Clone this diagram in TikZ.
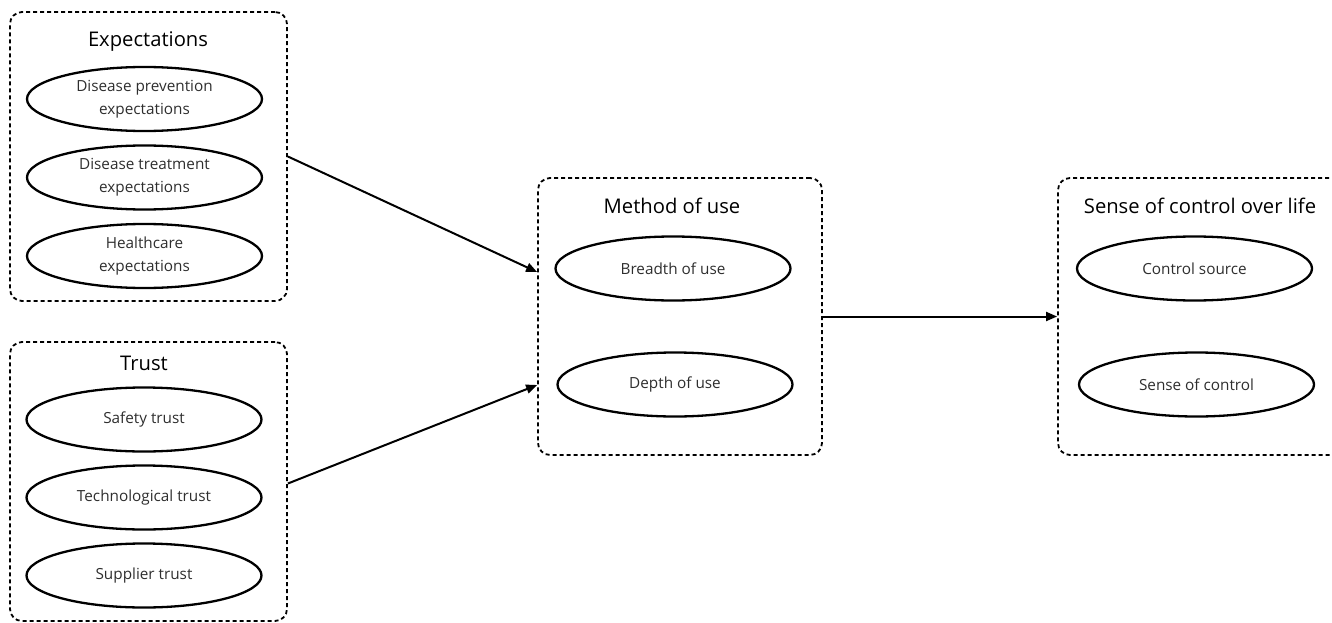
\documentclass[tikz,border=0pt]{standalone}
\usepackage{fontspec}
\setmainfont{Open Sans}
\usetikzlibrary{shapes.geometric,arrows.meta}
\definecolor{txtgray}{HTML}{2E2E2E}
\tikzset{
  groupbox/.style={draw=black, line width=1.8pt, dash pattern=on 4pt off 3pt, rounded corners=12pt, rectangle, inner sep=0pt},
  oval/.style={draw=black, line width=2.3pt, ellipse, minimum width=235pt, minimum height=64pt, inner sep=0pt, align=center, font=\fontsize{15.3}{23}\selectfont, text=txtgray},
  grouptitle/.style={font=\fontsize{20.2}{24}\selectfont, text=black, inner sep=0pt},
  link/.style={draw=black, line width=2pt, -{Triangle[length=11pt,width=9pt]}}
}
\begin{document}
\begin{tikzpicture}[x=1pt,y=-1pt]
\useasboundingbox (0,0) rectangle (1332,623);
\clip (0,0) rectangle (1332,623);
% Expectations
\node[groupbox, minimum width=277pt, minimum height=289pt] (exp) at (148.5,156.5) {};
\node[grouptitle] (expt) at (148,42) {Expectations};
\node[oval] (e1) at (144.5,99) {Disease prevention\\expectations};
\node[oval] (e2) at (144.5,177.5) {Disease treatment\\expectations};
\node[oval] (e3) at (144.5,256) {Healthcare\\expectations};
% Trust
\node[groupbox, minimum width=277pt, minimum height=279pt] (tru) at (148.5,481.5) {};
\node[grouptitle] (trut) at (144,363) {Trust};
\node[oval] (t1) at (144,419.5) {Safety trust};
\node[oval] (t2) at (144,497.5) {Technological trust};
\node[oval] (t3) at (144,575.5) {Supplier trust};
% Method of use
\node[groupbox, minimum width=284pt, minimum height=277pt] (met) at (680,316.5) {};
\node[grouptitle] (mett) at (672,206) {Method of use};
\node[oval] (m1) at (673,268.5) {Breadth of use};
\node[oval] (m2) at (675,384.5) {Depth of use};
% Sense of control over life
\node[groupbox, minimum width=290pt, minimum height=277pt] (sen) at (1203,316.5) {};
\node[grouptitle] (sent) at (1200,206) {Sense of control over life};
\node[oval] (s1) at (1194.5,268.5) {Control source};
\node[oval] (s2) at (1196.5,384.5) {Sense of control};
% connectors
\coordinate (a1) at ([yshift=44.5pt]met.west);
\coordinate (a2) at ([yshift=-68.5pt]met.west);
\draw[link] (exp.east) -- (a1);
\draw[link] ([yshift=-2pt]tru.east) -- (a2);
\draw[link] (met.east) -- (sen.west);
\end{tikzpicture}
\end{document}
